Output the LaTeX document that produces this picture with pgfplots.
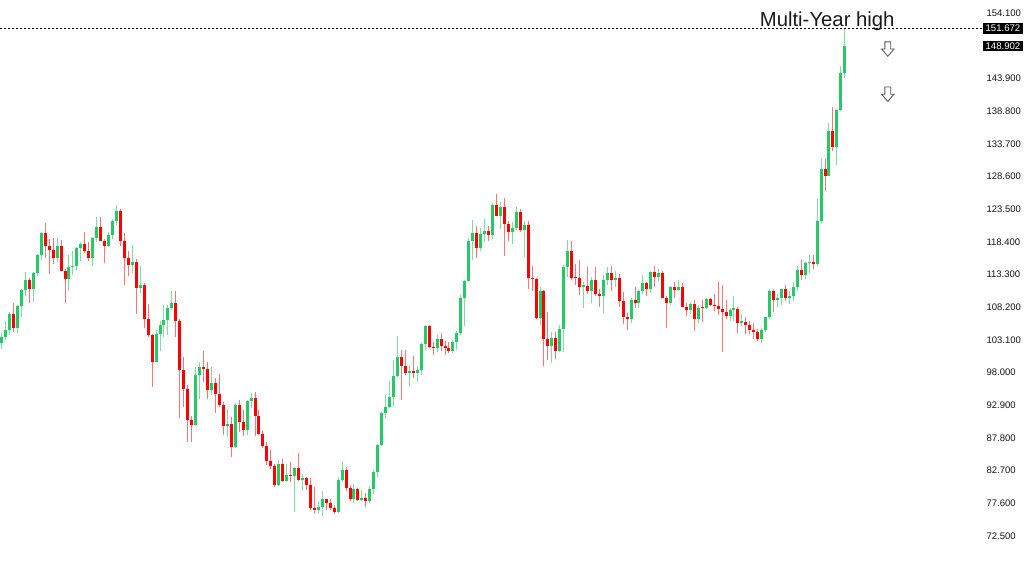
\documentclass[border=0pt]{standalone}
\usepackage{pgfplots}
\pgfplotsset{compat=1.18}
\usepackage{pgfplotstable}
\usepackage{fontspec}
\setmainfont{Liberation Sans}
\definecolor{cgreen}{RGB}{38,201,104}
\definecolor{cred}{RGB}{255,0,0}

\pgfplotstableread{
i o h l c
0 102.6 104.2 101.7 103.6
1 103.6 106.0 103.1 104.6
2 104.6 107.5 103.9 107.2
3 107.2 108.9 104.4 104.9
4 104.9 108.6 104.2 108.4
5 108.4 111.0 106.6 110.9
6 110.9 113.7 110.0 112.5
7 112.5 112.8 108.8 111.0
8 111.0 113.7 109.0 113.5
9 113.5 116.5 113.1 116.4
10 116.4 120.0 115.6 119.8
11 119.8 121.4 115.9 117.8
12 117.8 118.9 113.4 117.2
13 117.2 119.0 115.0 115.9
14 115.9 119.0 115.2 117.8
15 117.8 118.7 113.8 113.9
16 113.9 114.2 108.9 112.6
17 112.6 116.4 110.8 114.5
18 114.5 117.0 113.3 114.6
19 114.6 117.6 114.0 117.4
20 117.4 118.3 115.4 118.1
21 118.1 119.9 116.7 117.0
22 117.0 118.3 115.4 115.8
23 115.8 119.1 114.7 119.0
24 119.0 122.2 118.3 120.7
25 120.7 122.2 118.5 118.6
26 118.6 118.8 115.1 117.8
27 117.8 120.0 117.6 119.5
28 119.5 121.9 118.9 121.7
29 121.7 124.1 121.1 123.2
30 123.2 123.6 117.8 118.6
31 118.6 119.8 111.6 115.8
32 115.8 117.0 113.1 114.8
33 114.8 117.9 113.6 115.3
34 115.3 115.7 107.2 111.2
35 111.2 114.7 110.4 111.7
36 111.7 111.9 104.9 106.4
37 106.4 108.7 103.5 103.8
38 103.8 104.0 95.8 99.7
39 99.7 104.7 99.6 104.0
40 104.0 106.0 101.4 105.5
41 105.5 108.6 103.5 106.2
42 106.2 108.6 103.8 108.1
43 108.1 110.7 107.7 108.8
44 108.8 110.7 103.5 106.0
45 106.0 106.4 90.9 98.4
46 98.4 100.5 92.6 95.5
47 95.5 96.0 87.1 90.6
48 90.6 91.3 87.1 89.9
49 89.9 98.9 89.7 97.6
50 97.6 99.7 93.9 98.9
51 98.9 101.4 96.5 98.6
52 98.6 99.6 93.9 95.3
53 95.3 98.9 94.5 96.4
54 96.4 97.1 91.7 94.7
55 94.7 97.8 92.6 93.0
56 93.0 93.4 88.2 89.7
57 89.7 92.3 88.0 90.0
58 90.0 91.0 84.8 86.4
59 86.4 93.2 86.3 93.0
60 93.0 93.8 88.8 90.3
61 90.3 92.1 88.1 89.0
62 89.0 93.7 88.2 93.5
63 93.5 94.8 92.4 94.0
64 94.0 94.9 88.1 91.3
65 91.3 92.1 88.2 88.4
66 88.4 88.9 86.3 86.5
67 86.5 87.1 83.6 84.2
68 84.2 85.9 82.9 83.5
69 83.5 83.7 80.2 80.4
70 80.4 84.4 80.3 83.7
71 83.7 84.5 80.9 81.1
72 81.1 83.7 81.0 82.1
73 82.1 84.0 81.0 81.8
74 81.8 83.3 76.3 83.1
75 83.1 85.5 81.1 81.2
76 81.2 82.2 79.6 81.5
77 81.5 81.7 79.7 80.5
78 80.5 81.5 76.6 76.8
79 76.8 80.2 75.9 76.6
80 76.6 77.9 75.9 77.0
81 77.0 79.5 75.6 78.2
82 78.2 78.3 76.6 77.6
83 77.6 78.3 76.6 76.9
84 76.9 77.3 75.9 76.2
85 76.2 81.7 76.1 81.2
86 81.2 84.2 80.9 82.8
87 82.8 83.3 79.6 80.0
88 80.0 80.5 78.0 78.3
89 78.3 80.6 77.7 79.8
90 79.8 80.0 77.9 78.1
91 78.1 79.7 78.0 78.4
92 78.4 79.2 77.1 77.9
93 77.9 80.3 77.7 79.8
94 79.8 82.8 79.0 82.5
95 82.5 86.8 81.7 86.7
96 86.7 91.8 86.5 91.7
97 91.7 94.5 90.9 92.6
98 92.6 96.7 92.5 94.2
99 94.2 99.9 92.6 97.4
100 97.4 103.7 97.3 100.5
101 100.5 101.5 93.8 99.1
102 99.1 101.5 97.6 97.9
103 97.9 99.2 95.8 98.2
104 98.2 100.6 97.1 98.0
105 98.0 99.0 96.6 98.4
106 98.4 102.6 97.6 102.4
107 102.4 105.4 101.6 105.3
108 105.3 105.4 101.8 102.0
109 102.0 102.8 100.8 101.8
110 101.8 103.8 101.2 103.2
111 103.2 104.1 101.4 102.2
112 102.2 103.0 100.8 101.8
113 101.8 102.8 101.1 101.3
114 101.3 103.1 101.1 102.8
115 102.8 104.5 101.5 104.1
116 104.1 110.1 103.8 109.6
117 109.6 112.5 105.2 112.3
118 112.3 119.0 112.3 118.6
119 118.6 121.85 115.6 119.8
120 119.8 120.8 115.9 117.5
121 117.5 120.5 116.9 119.6
122 119.6 122.0 118.3 120.1
123 120.1 120.8 118.5 119.4
124 119.4 124.4 118.9 124.1
125 124.1 125.9 122.4 122.5
126 122.5 124.6 120.4 123.9
127 123.9 125.3 116.2 121.2
128 121.2 121.7 118.6 119.9
129 119.9 121.5 118.1 120.6
130 120.6 123.8 120.3 123.1
131 123.1 123.6 119.9 120.2
132 120.2 121.7 116.0 121.1
133 121.1 121.7 111.0 112.7
134 112.7 114.6 110.7 112.6
135 112.6 112.7 106.3 106.5
136 106.5 111.4 105.5 110.7
137 110.7 110.9 99.0 103.2
138 103.2 107.5 100.0 102.1
139 102.1 104.3 99.5 103.4
140 103.4 104.3 100.1 101.3
141 101.3 105.5 101.2 104.8
142 104.8 114.8 101.2 114.5
143 114.5 118.7 112.9 117.0
144 117.0 118.6 112.5 112.8
145 112.8 115.0 111.7 112.7
146 112.7 115.5 110.1 111.4
147 111.4 112.2 108.1 111.5
148 111.5 114.4 110.2 110.8
149 110.8 112.9 108.8 112.4
150 112.4 114.5 109.9 110.3
151 110.3 111.1 108.3 110.0
152 110.0 113.3 107.3 112.5
153 112.5 114.4 111.7 113.6
154 113.6 114.7 110.8 112.5
155 112.5 113.8 111.4 112.7
156 112.7 113.4 108.3 109.2
157 109.2 110.5 105.6 106.7
158 106.7 107.3 104.6 106.3
159 106.3 109.6 105.7 109.3
160 109.3 111.4 108.1 108.8
161 108.8 110.9 108.1 110.7
162 110.7 113.2 110.3 111.9
163 111.9 112.2 110.0 111.0
164 111.0 113.8 110.4 113.7
165 113.7 114.6 111.4 112.9
166 112.9 114.2 112.3 113.5
167 113.5 113.8 109.6 109.7
168 109.7 109.9 104.9 108.9
169 108.9 111.5 108.5 111.4
170 111.4 112.1 109.7 110.9
171 110.9 112.4 110.8 111.4
172 111.4 112.0 108.2 108.3
173 108.3 108.8 106.8 107.8
174 107.8 109.0 107.2 108.7
175 108.7 109.3 104.5 106.3
176 106.3 108.5 105.7 108.1
177 108.1 109.3 105.9 108.0
178 108.0 109.7 107.9 109.5
179 109.5 109.7 108.4 108.6
180 108.6 110.3 107.6 108.4
181 108.4 112.2 107.0 107.9
182 107.9 111.7 101.2 107.5
183 107.5 109.4 106.4 106.9
184 106.9 108.1 106.0 107.8
185 107.8 109.9 106.1 107.9
186 107.9 108.2 104.2 105.8
187 105.8 107.1 105.2 105.9
188 105.9 106.6 104.0 105.5
189 105.5 106.1 104.0 104.7
190 104.7 105.7 103.2 104.3
191 104.3 104.8 102.9 103.3
192 103.3 104.9 102.6 104.7
193 104.7 106.7 104.4 106.6
194 106.6 111.0 106.4 110.7
195 110.7 111.0 107.5 109.3
196 109.3 110.2 108.3 109.6
197 109.6 111.1 108.6 111.1
198 111.1 111.7 109.1 109.7
199 109.7 110.8 108.7 110.0
200 110.0 112.1 109.1 111.3
201 111.3 114.7 110.8 114.0
202 114.0 115.5 112.5 113.2
203 113.2 115.2 112.6 115.1
204 115.1 116.4 113.5 115.2
205 115.2 116.3 114.2 115.0
206 115.0 125.1 114.7 121.7
207 121.7 131.3 121.3 129.8
208 129.8 131.4 126.4 128.7
209 128.7 137.0 128.6 135.7
210 135.7 139.4 132.5 133.2
211 133.2 139.1 130.4 138.9
212 138.9 145.9 138.8 144.7
213 144.7 151.67 144.0 148.9
}\ohlc

\begin{document}
\begin{tikzpicture}
\useasboundingbox (0,0) rectangle (1024pt,560pt);
\begin{axis}[
  at={(0,0)}, anchor=south west,
  scale only axis, width=975pt, height=560pt,
  xmin=-0.43, xmax=245.9, ymin=68.76, ymax=156.13,
  axis line style={draw=none},
  xtick=\empty,
  ytick={72.5,77.6,82.7,87.8,92.9,98.0,103.1,108.2,113.3,118.4,123.5,128.6,133.7,138.8,143.9,154.1},
  ytick pos=right, yticklabel pos=right,
  major tick length=0pt,
  tick style={draw=none},
  yticklabel shift=8pt,
  yticklabel style={anchor=west, font=\fontsize{9.5}{10}\selectfont, text=black!92,
    /pgf/number format/.cd, fixed, fixed zerofill, precision=3, 1000 sep={}, assume math mode=true},
  clip=false,
]
% wicks
\addplot[draw=none, mark=none, forget plot,
  error bars/.cd, y dir=plus, y explicit, error mark=none,
  error bar style={draw=cgreen, line width=1pt, opacity=0.6}]
  table[x=i, y=l, y error plus expr={(\thisrow{c}>=\thisrow{o}) ? (\thisrow{h}-\thisrow{l}) : 0}] {\ohlc};
\addplot[draw=none, mark=none, forget plot,
  error bars/.cd, y dir=plus, y explicit, error mark=none,
  error bar style={draw=cred, line width=1pt, opacity=0.55}]
  table[x=i, y=l, y error plus expr={(\thisrow{c}<\thisrow{o}) ? (\thisrow{h}-\thisrow{l}) : 0}] {\ohlc};
% bodies
\addplot[draw=none, mark=none, forget plot,
  error bars/.cd, y dir=plus, y explicit, error mark=none,
  error bar style={draw=cgreen, line width=3pt}]
  table[x=i, y=o, y error plus expr={(\thisrow{c}>=\thisrow{o}) ? max(\thisrow{c}-\thisrow{o},0.2) : 0}] {\ohlc};
\addplot[draw=none, mark=none, forget plot,
  error bars/.cd, y dir=plus, y explicit, error mark=none,
  error bar style={draw=cred, line width=3pt}]
  table[x=i, y=c, y error plus expr={(\thisrow{c}<\thisrow{o}) ? max(\thisrow{o}-\thisrow{c},0.2) : 0}] {\ohlc};
% multi-year high line
\addplot[black, line width=0.8pt, dash pattern=on 2pt off 2pt, forget plot] coordinates {(-0.43,151.672) (247.9,151.672)};
\node[fill=black, text=white, font=\fontsize{9.6}{10}\selectfont, inner xsep=2.5pt, inner ysep=1pt, text height=7.2pt, text depth=1pt, anchor=west] at (axis cs:247.9,151.672) {151.672};
\node[fill=black, text=white, font=\fontsize{9.6}{10}\selectfont, inner xsep=2.5pt, inner ysep=1pt, text height=7.2pt, text depth=1pt, anchor=west] at (axis cs:247.9,148.902) {148.902};
\node[anchor=base, font=\fontsize{20.3}{21}\selectfont, text=black!90] at (axis cs:208.56,152.07) {Multi-Year high};
\draw[black!65, line width=0.9pt, fill=white, shift={(axis cs:223.87,148.48)}] (-2.9pt,7.2pt) -- (2.9pt,7.2pt) -- (2.9pt,0pt) -- (6.2pt,0pt) -- (0pt,-7.2pt) -- (-6.2pt,0pt) -- (-2.9pt,0pt) -- cycle;
\draw[black!65, line width=0.9pt, fill=white, shift={(axis cs:223.87,141.43)}] (-2.9pt,7.2pt) -- (2.9pt,7.2pt) -- (2.9pt,0pt) -- (6.2pt,0pt) -- (0pt,-7.2pt) -- (-6.2pt,0pt) -- (-2.9pt,0pt) -- cycle;
\end{axis}
\end{tikzpicture}
\end{document}
